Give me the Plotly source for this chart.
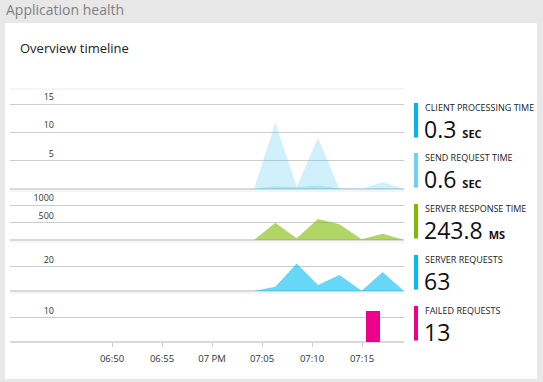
import plotly.graph_objects as go

W, H = 543, 382

def px(x):
    return x / W

def py(y):
    return 1 - y / H

# ---------------- data ----------------
times = ["2016-05-10 19:04:12", "2016-05-10 19:06:20", "2016-05-10 19:08:28",
         "2016-05-10 19:10:36", "2016-05-10 19:12:44", "2016-05-10 19:14:58",
         "2016-05-10 19:17:04", "2016-05-10 19:19:08"]
send_request_time = [0, 11.7, 0.4, 9.05, 0.1, 0.05, 1.2, 0.1]
client_processing_time = [0, 0.5, 0.3, 0.6, 0.1, 0.0, 0.15, 0.0]
server_response_time = [0, 494, 50, 605, 452, 20, 182, 10]
server_requests = [0, 3.6, 23, 5, 13.3, 0.3, 15.8, 0.5]
failed_times = ["2016-05-10 19:16:06"]
failed_requests = [13]

tick_times = ["2016-05-10 18:50", "2016-05-10 18:55", "2016-05-10 19:00",
              "2016-05-10 19:05", "2016-05-10 19:10", "2016-05-10 19:15"]
tick_labels = ["06:50", "06:55", "07 PM", "07:05", "07:10", "07:15"]
x_range = ["2016-05-10 18:39:48", "2016-05-10 19:19:12"]

legend_labels = ["CLIENT PROCESSING TIME", "SEND REQUEST TIME", "SERVER RESPONSE TIME",
                 "SERVER REQUESTS", "FAILED REQUESTS"]
legend_values = ["0.3", "0.6", "243.8", "63", "13"]
legend_units = ["SEC", "SEC", "MS", "", ""]
legend_colors = ["#00b4f0", "#6dd2f6", "#7fba00", "#00bcf2", "#ec008c"]

y1_ticks = [5, 10, 15]
y2_ticks = [500, 1000]
y3_ticks = [20]
y4_ticks = [10]

# ---------------- figure ----------------
FONT = "Segoe UI, Open Sans, sans-serif"
fig = go.Figure()

fig.add_trace(go.Scatter(x=times, y=send_request_time, mode="lines", fill="tozeroy",
                         line=dict(width=0), fillcolor="rgba(110,210,246,0.32)",
                         xaxis="x", yaxis="y", hoverinfo="skip"))
fig.add_trace(go.Scatter(x=times, y=client_processing_time, mode="lines", fill="tozeroy",
                         line=dict(width=0), fillcolor="rgba(0,180,240,0.18)",
                         xaxis="x", yaxis="y", hoverinfo="skip"))
fig.add_trace(go.Scatter(x=times, y=server_response_time, mode="lines", fill="tozeroy",
                         line=dict(width=0), fillcolor="rgba(127,186,0,0.6)",
                         xaxis="x", yaxis="y2", hoverinfo="skip"))
fig.add_trace(go.Scatter(x=times, y=server_requests, mode="lines", fill="tozeroy",
                         line=dict(width=0), fillcolor="rgba(0,188,242,0.6)",
                         xaxis="x", yaxis="y3", hoverinfo="skip"))
fig.add_trace(go.Bar(x=failed_times, y=failed_requests, width=84000,
                     marker=dict(color="#ec008c", line=dict(width=0)),
                     xaxis="x", yaxis="y4", hoverinfo="skip"))

# panel geometry (pixels): (top, bottom)
panels = [(89, 189), (191, 240), (242, 291), (293, 342)]
ranges = [[0, 17.65], [0, 1412], [0, 40.8], [0, 20.4]]
ticks = [y1_ticks, y2_ticks, y3_ticks, y4_ticks]

axis_common = dict(anchor="free", position=px(56), showline=False, ticks="",
                   showgrid=True, gridcolor="#cccccc", gridwidth=1,
                   zeroline=True, zerolinecolor="#d9d9d9", zerolinewidth=2,
                   tickfont=dict(family=FONT, size=9, color="#333333"),
                   ticklabelshift=-7, ticklabelstandoff=2, fixedrange=True)

layout_axes = {}
names = ["yaxis", "yaxis2", "yaxis3", "yaxis4"]
for name, (top, bot), rng, tv in zip(names, panels, ranges, ticks):
    layout_axes[name] = dict(domain=[py(bot), py(top)], range=rng, tickvals=tv,
                             ticktext=[str(v) for v in tv], **axis_common)

shapes = [
    dict(type="rect", xref="paper", yref="paper", x0=px(5), x1=px(537), y0=py(379), y1=py(23),
         fillcolor="white", line=dict(width=0), layer="below"),
]
# faint separator at top of each panel
for top, bot in panels:
    shapes.append(dict(type="line", xref="paper", yref="paper", x0=px(10), x1=px(404),
                       y0=py(top), y1=py(top), line=dict(color="#ececec", width=1)))

annotations = [
    dict(text="Application health", x=px(4), y=py(10), xref="paper", yref="paper",
         xanchor="left", yanchor="middle", showarrow=False,
         font=dict(family=FONT, size=14, color="#808080")),
    dict(text="Overview timeline", x=px(18), y=py(48), xref="paper", yref="paper",
         xanchor="left", yanchor="middle", showarrow=False,
         font=dict(family=FONT, size=13, color="#222222")),
]

tops = [103, 153, 204, 255, 306]
for top, lab, val, unit, col in zip(tops, legend_labels, legend_values, legend_units, legend_colors):
    shapes.append(dict(type="rect", xref="paper", yref="paper", x0=px(414), x1=px(418),
                       y0=py(top + 34.5), y1=py(top), fillcolor=col, line=dict(width=0)))
    annotations.append(dict(text=lab, x=px(423.5), y=py(top + 4.5), xref="paper", yref="paper",
                            xanchor="left", yanchor="middle", showarrow=False, borderpad=0,
                            font=dict(family=FONT, size=9, color="#222222")))
    txt = val
    if unit:
        txt += " <b><span style='font-size:11px'>" + unit + "</span></b>"
    annotations.append(dict(text=txt, x=px(422.5), y=py(top + 26), xref="paper", yref="paper",
                            xanchor="left", yanchor="middle", showarrow=False, borderpad=0,
                            font=dict(family=FONT, size=23, color="#111111")))

fig.update_layout(
    width=W, height=H, margin=dict(l=0, r=0, t=0, b=0),
    paper_bgcolor="#e8e8e8", plot_bgcolor="rgba(0,0,0,0)",
    showlegend=False,
    xaxis=dict(type="date", domain=[px(10), px(404)], range=x_range, anchor="y4",
               tickvals=tick_times, ticktext=tick_labels, ticks="outside", ticklen=4,
               tickcolor="#cccccc", showgrid=False, showline=False, zeroline=False,
               tickfont=dict(family=FONT, size=9.5, color="#333333"),
               ticklabelstandoff=4, fixedrange=True),
    shapes=shapes, annotations=annotations, bargap=0,
    **layout_axes,
)

fig.write_html("out.html", config={"displayModeBar": False},
               post_script="document.body.style.margin='0';document.body.style.overflow='hidden';")
